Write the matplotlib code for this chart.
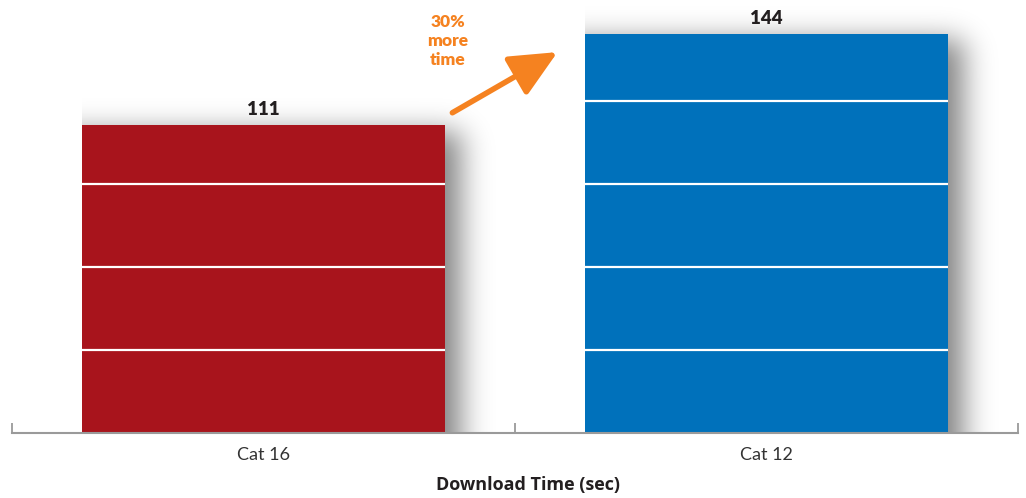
import numpy as np
import matplotlib
matplotlib.use("Agg")
import matplotlib.pyplot as plt
from math import erf

# Chart data
categories = ["Cat 16", "Cat 12"]
values = [111, 144]
bar_colors = ["#A8141C", "#0071BB"]
grid_levels = [30, 60, 90, 120]
x_title = "Download Time (sec)"
callout_text = "30%\nmore\ntime"

plt.rcParams["font.family"] = ["Lato", "DejaVu Sans"]

W, H = 1026, 498
fig = plt.figure(figsize=(W / 100, H / 100), dpi=100)
ax_left, ax_bottom, ax_w, ax_h = 12, 65, 1006, 433  # pixels
ax = fig.add_axes([ax_left / W, ax_bottom / H, ax_w / W, ax_h / H])

ymax = 156.3
ax.set_xlim(-0.5, 1.5)
ax.set_ylim(0, ymax)

px_x = ax_w / 2.0          # pixels per x data unit
px_y = ax_h / ymax         # pixels per y data unit
bar_w = 0.72

verf = np.vectorize(erf)


def soft_box(coord, lo, hi, sigma):
    s = sigma * np.sqrt(2)
    return 0.5 * (verf((coord - lo) / s) - verf((coord - hi) / s))


# Soft drop shadow to the right of each bar
for i, v in enumerate(values):
    left = i - bar_w / 2
    right = i + bar_w / 2
    x0, x1 = left, right + 90 / px_x
    y0, y1 = 0, v + 40 / px_y
    xs = np.linspace(x0, x1, 260)
    ys = np.linspace(y0, y1, 260)
    xpx = (xs - right) * px_x
    ypx = (ys - v) * px_y
    ix = soft_box(xpx, -400, 16, 15)
    iy = soft_box(ypx, -1000, -6, 14)
    alpha = 0.50 * np.outer(iy, ix)
    rgba = np.zeros(alpha.shape + (4,))
    rgba[..., 3] = alpha
    ax.imshow(rgba, extent=(x0, x1, y0, y1), origin="lower",
              aspect="auto", interpolation="bilinear", zorder=1)

ax.set_xlim(-0.5, 1.5)
ax.set_ylim(0, ymax)

x = np.arange(len(categories))
bars = ax.bar(x, values, width=bar_w, color=bar_colors, zorder=2)

# White guide lines across each bar
for i, v in enumerate(values):
    lv = [g for g in grid_levels if g < v]
    ax.hlines(lv, i - bar_w / 2, i + bar_w / 2, colors="white",
              linewidth=1.6, zorder=3)

# Value labels
for i, v in enumerate(values):
    ax.annotate(str(v), xy=(i, v), xytext=(0, 7.5), textcoords="offset points",
                ha="center", va="baseline", fontsize=13.5, fontweight="heavy",
                color="#231F20")

# Axis styling
for s in ["top", "left", "right"]:
    ax.spines[s].set_visible(False)
ax.spines["bottom"].set_color("#9A9A9A")
ax.spines["bottom"].set_linewidth(1.5)
ax.set_yticks([])
ax.set_xticks([-0.5, 0.5, 1.5])
ax.set_xticklabels([])
ax.tick_params(axis="x", which="major", direction="in", length=7,
               width=1.3, color="#9A9A9A")
ax.set_xticks(x, categories, minor=True)
ax.tick_params(axis="x", which="minor", length=0, pad=10, labelsize=13,
               labelcolor="#333333")

fig.text(528 / W, 1 - 485 / H, x_title, ha="center", va="center",
         fontsize=13, fontweight="bold", color="#231F20",
         family=["Open Sans", "DejaVu Sans"])

# Callout arrow and text
orange = "#F58220"
ax.annotate("", xy=(0.5845, 137.5), xytext=(0.3755, 115.6),
            arrowprops=dict(arrowstyle="-|>,head_length=2.9,head_width=1.35",
                            lw=4, color=orange, shrinkA=0, shrinkB=0,
                            mutation_scale=10),
            zorder=4)
fig.text(448 / W, 1 - 41 / H, callout_text, ha="center", va="center",
         fontsize=12.5, fontweight="heavy", color=orange, linespacing=1.2)

fig.savefig("out.png", dpi=100)
